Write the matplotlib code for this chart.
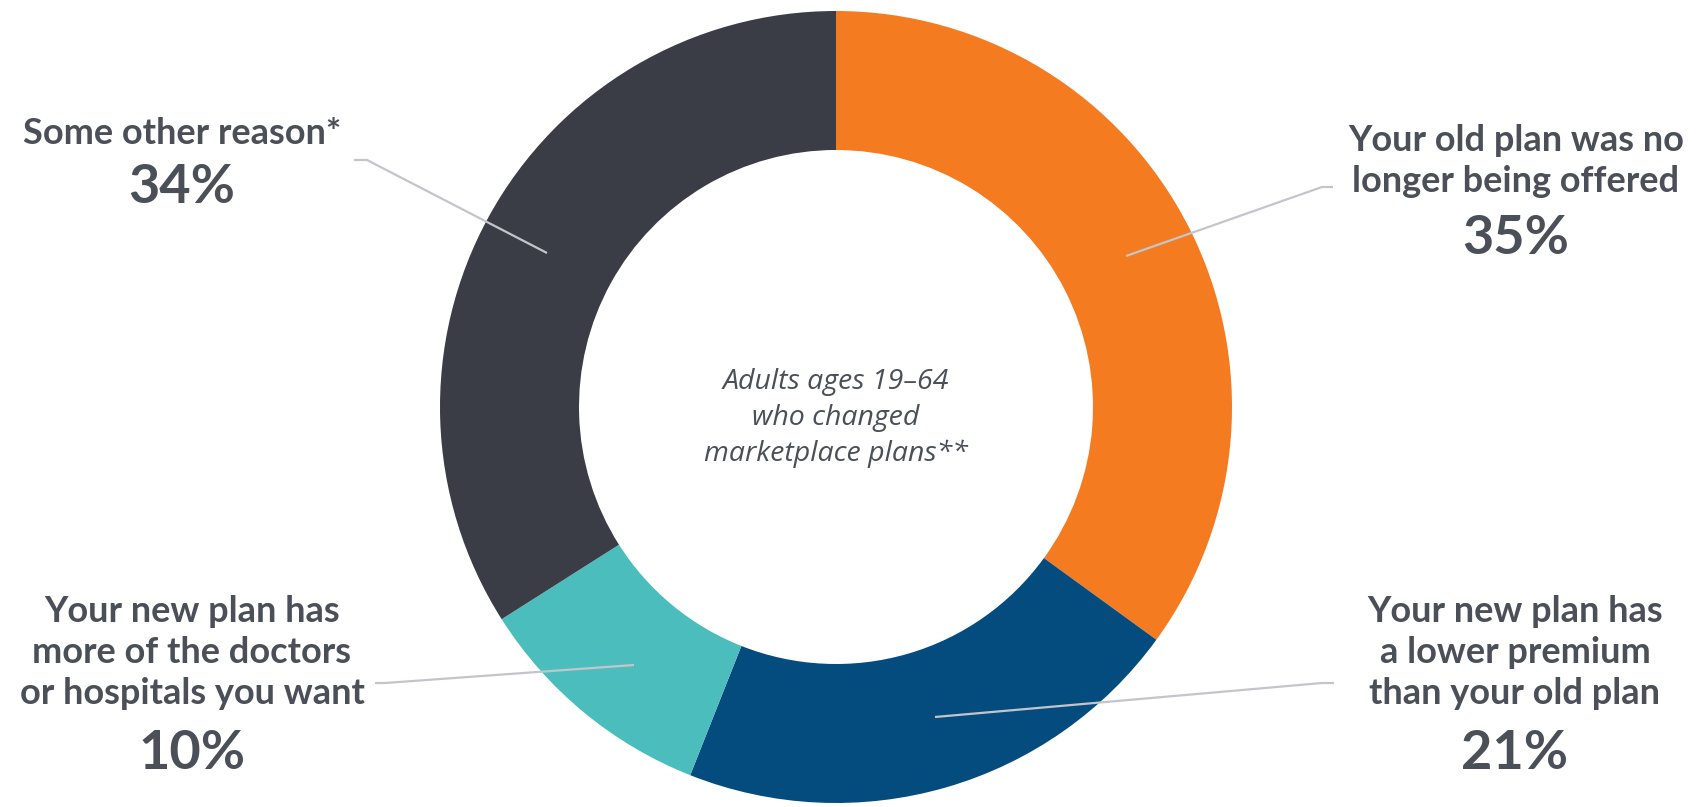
import matplotlib
matplotlib.use("Agg")
import matplotlib.pyplot as plt

# data
reasons = ["Your old plan was no\nlonger being offered",
           "Your new plan has\na lower premium\nthan your old plan",
           "Your new plan has\nmore of the doctors\nor hospitals you want",
           "Some other reason*"]
shares = [35, 21, 10, 34]
colors = ["#F47B20", "#054C7E", "#4BBDBC", "#3A3D45"]

W, H = 1700, 807
fig = plt.figure(figsize=(17, 8.07), dpi=100)
ax = fig.add_axes([0, 0, 1, 1])

cx, cy = 836, H - 407
R, r = 396, 257
ax.pie(shares, colors=colors, radius=R, center=(cx, cy), startangle=90,
       counterclock=False, wedgeprops=dict(width=R - r, linewidth=0))
ax.set_xlim(0, W)
ax.set_ylim(0, H)
ax.axis("off")

txt = "#4B4F58"
line_c = "#C3C5CA"

# leader lines (pixel coords, y from top)
leaders = [
    [(1126, 256), (1322, 187), (1333, 187)],
    [(935, 717), (1322, 683), (1334, 683)],
    [(634, 665), (385, 683), (375, 683)],
    [(547, 253), (367, 160), (354, 160)],
]
for pts in leaders:
    xs = [p[0] for p in pts]
    ys = [H - p[1] for p in pts]
    ax.plot(xs, ys, color=line_c, lw=1.6, solid_capstyle="butt")

# label anchors: (x center, y top of first line)
label_pos = [(1516, 124), (1515, 595), (192, 595), (182, 117)]
lab_font = "Lato"
for name, val, (lx, ly) in zip(reasons, shares, label_pos):
    nlines = name.count("\n") + 1
    ax.text(lx, H - ly, name, ha="center", va="top", fontsize=26,
            fontweight="bold", family=lab_font, color=txt, linespacing=1.3)
    ax.text(lx, H - ly - nlines * 44 - 2, f"{val}%", ha="center", va="top",
            fontsize=39, fontweight="bold", family=lab_font, color=txt)

ax.text(cx, H - 418, "Adults ages 19\u201364\nwho changed\nmarketplace plans**",
        ha="center", va="center", fontsize=20.5, style="italic",
        family="Open Sans", color=txt, linespacing=1.37)

fig.savefig("out.png", dpi=100)
